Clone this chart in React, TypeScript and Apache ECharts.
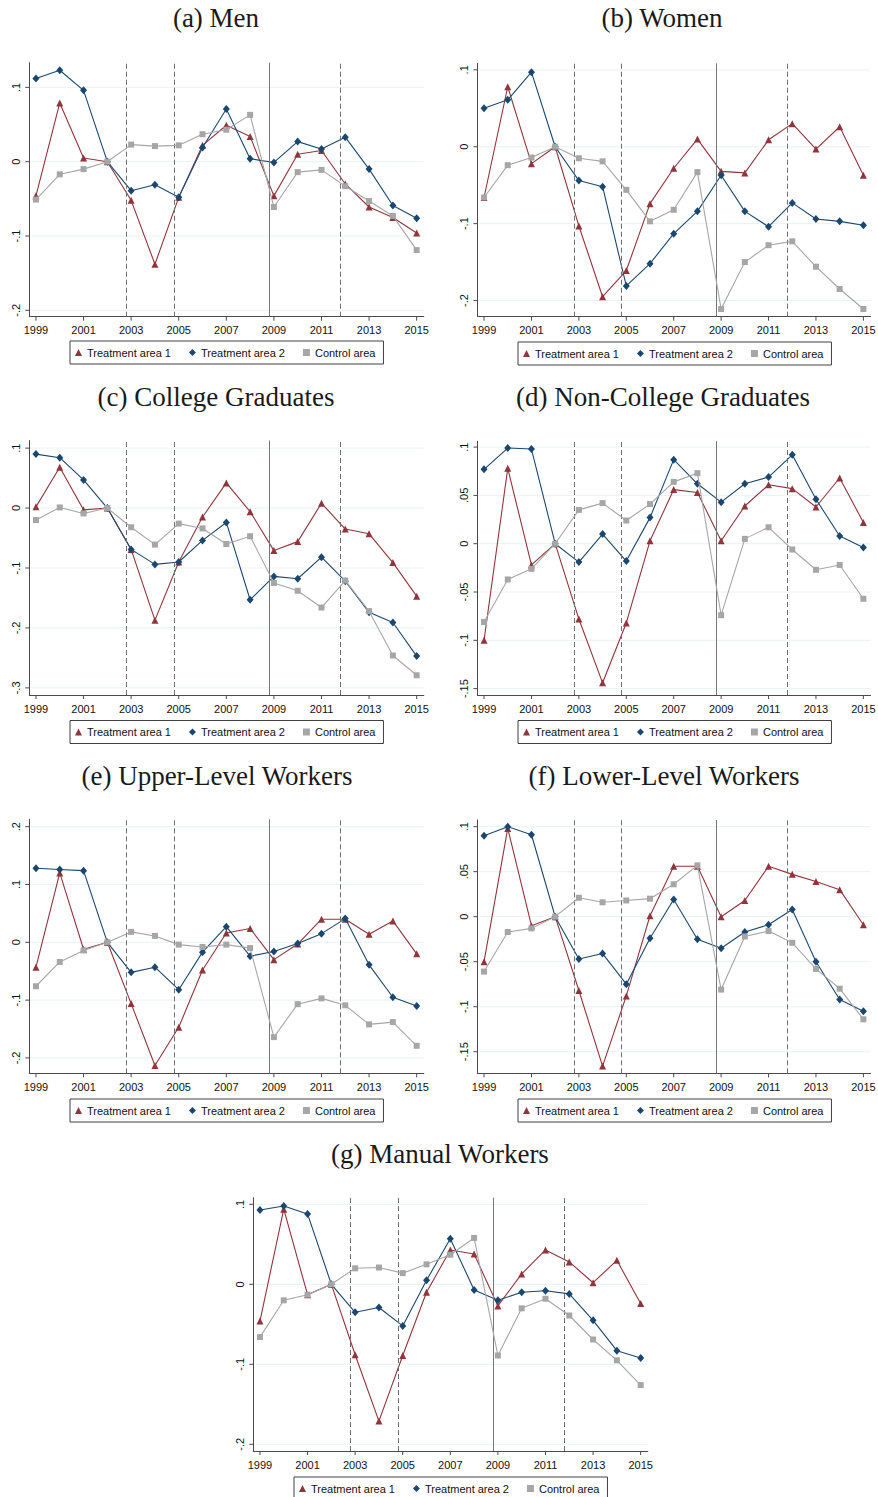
import React, { useEffect, useRef } from 'react';
import * as echarts from 'echarts';

const years = [1999, 2000, 2001, 2002, 2003, 2004, 2005, 2006, 2007, 2008, 2009, 2010, 2011, 2012, 2013, 2014, 2015];
const xTickYears = [1999, 2001, 2003, 2005, 2007, 2009, 2011, 2013, 2015];
const xTickLabels = ['1999', '2001', '2003', '2005', '2007', '2009', '2011', '2013', '2015'];
const dashedYears = [2002.8, 2004.8, 2011.8];
const solidYears = [2008.8];
const seriesNames = ['Treatment area 1', 'Treatment area 2', 'Control area'];

// (a) Men
const menT1 = [-0.046, 0.079, 0.005, 0, -0.052, -0.138, -0.048, 0.022, 0.049, 0.034, -0.046, 0.010, 0.015, -0.030, -0.061, -0.075, -0.096];
const menT2 = [0.112, 0.123, 0.096, 0, -0.039, -0.031, -0.048, 0.019, 0.071, 0.004, -0.001, 0.027, 0.017, 0.033, -0.010, -0.059, -0.076];
const menCtrl = [-0.051, -0.017, -0.010, 0, 0.023, 0.021, 0.022, 0.037, 0.043, 0.063, -0.061, -0.014, -0.011, -0.033, -0.053, -0.073, -0.119];

// (b) Women
const womenT1 = [-0.066, 0.078, -0.022, 0, -0.103, -0.195, -0.161, -0.074, -0.028, 0.010, -0.032, -0.034, 0.009, 0.030, -0.003, 0.026, -0.037];
const womenT2 = [0.050, 0.061, 0.097, 0, -0.044, -0.052, -0.181, -0.152, -0.113, -0.084, -0.037, -0.084, -0.104, -0.073, -0.094, -0.097, -0.102];
const womenCtrl = [-0.066, -0.024, -0.014, 0, -0.015, -0.019, -0.056, -0.097, -0.082, -0.033, -0.211, -0.150, -0.128, -0.123, -0.156, -0.185, -0.211];

// (c) College Graduates
const collT1 = [0.002, 0.068, -0.003, 0, -0.069, -0.187, -0.090, -0.015, 0.042, -0.006, -0.071, -0.056, 0.008, -0.035, -0.043, -0.091, -0.147];
const collT2 = [0.090, 0.084, 0.047, 0, -0.069, -0.094, -0.090, -0.054, -0.024, -0.153, -0.114, -0.118, -0.082, -0.122, -0.174, -0.191, -0.247];
const collCtrl = [-0.020, 0.001, -0.009, 0, -0.032, -0.061, -0.026, -0.034, -0.060, -0.047, -0.125, -0.138, -0.166, -0.121, -0.172, -0.246, -0.279];

// (d) Non-College Graduates
const nonCollT1 = [-0.100, 0.078, -0.022, 0, -0.078, -0.144, -0.082, 0.003, 0.056, 0.053, 0.003, 0.039, 0.061, 0.057, 0.038, 0.068, 0.022];
const nonCollT2 = [0.077, 0.099, 0.098, 0, -0.019, 0.010, -0.018, 0.027, 0.087, 0.062, 0.043, 0.062, 0.069, 0.092, 0.046, 0.008, -0.004];
const nonCollCtrl = [-0.081, -0.037, -0.026, 0, 0.035, 0.042, 0.024, 0.041, 0.064, 0.073, -0.074, 0.005, 0.017, -0.006, -0.027, -0.022, -0.057];

// (e) Upper-Level Workers
const upperT1 = [-0.043, 0.120, -0.012, 0, -0.106, -0.213, -0.147, -0.048, 0.016, 0.024, -0.030, -0.003, 0.040, 0.040, 0.014, 0.037, -0.020];
const upperT2 = [0.128, 0.126, 0.124, 0, -0.052, -0.043, -0.082, -0.017, 0.027, -0.024, -0.016, -0.002, 0.015, 0.041, -0.039, -0.095, -0.110];
const upperCtrl = [-0.076, -0.034, -0.014, 0, 0.018, 0.011, -0.004, -0.008, -0.004, -0.010, -0.164, -0.107, -0.097, -0.109, -0.142, -0.138, -0.179];

// (f) Lower-Level Workers
const lowerT1 = [-0.050, 0.098, -0.010, 0, -0.082, -0.166, -0.088, 0.001, 0.056, 0.056, 0.000, 0.018, 0.056, 0.047, 0.039, 0.030, -0.009];
const lowerT2 = [0.090, 0.100, 0.091, 0, -0.047, -0.041, -0.075, -0.024, 0.019, -0.025, -0.035, -0.017, -0.009, 0.008, -0.050, -0.092, -0.105];
const lowerCtrl = [-0.061, -0.017, -0.013, 0, 0.021, 0.016, 0.018, 0.020, 0.036, 0.057, -0.081, -0.022, -0.016, -0.029, -0.058, -0.080, -0.114];

// (g) Manual Workers
const manualT1 = [-0.046, 0.094, -0.013, 0, -0.088, -0.171, -0.089, -0.010, 0.043, 0.038, -0.027, 0.013, 0.043, 0.028, 0.002, 0.030, -0.024];
const manualT2 = [0.093, 0.098, 0.088, 0, -0.035, -0.029, -0.052, 0.005, 0.057, -0.007, -0.020, -0.010, -0.008, -0.012, -0.045, -0.083, -0.092];
const manualCtrl = [-0.066, -0.020, -0.013, 0, 0.020, 0.021, 0.014, 0.025, 0.037, 0.058, -0.089, -0.030, -0.018, -0.039, -0.069, -0.095, -0.126];

const titles = [
  '(a) Men',
  '(b) Women',
  '(c) College Graduates',
  '(d) Non-College Graduates',
  '(e) Upper-Level Workers',
  '(f) Lower-Level Workers',
  '(g) Manual Workers',
];

const yTicksTenths3 = [0.1, 0, -0.1, -0.2];
const yLabelsTenths3 = ['.1', '0', '-.1', '-.2'];
const yTicksTenths4 = [0.1, 0, -0.1, -0.2, -0.3];
const yLabelsTenths4 = ['.1', '0', '-.1', '-.2', '-.3'];
const yTicksTwentieths = [0.1, 0.05, 0, -0.05, -0.1, -0.15];
const yLabelsTwentieths = ['.1', '.05', '0', '-.05', '-.1', '-.15'];
const yTicksWide = [0.2, 0.1, 0, -0.1, -0.2];
const yLabelsWide = ['.2', '.1', '0', '-.1', '-.2'];

// layout (pixel positions & axis ranges)
const X_MIN = 1998.72;
const X_MAX = 2015.3;
const layouts = [
  { left: 29.3, top: 62.7, width: 394.5, height: 254, yMin: -0.2086, yMax: 0.1332, tx: 216, ty: 18, lx: 70, ly: 341 },
  { left: 477.4, top: 63.3, width: 393.1, height: 253.4, yMin: -0.221, yMax: 0.1085, tx: 662, ty: 18, lx: 518, ly: 342 },
  { left: 29.3, top: 440.5, width: 394.5, height: 254.5, yMin: -0.3119, yMax: 0.1127, tx: 216, ty: 397, lx: 70, ly: 720.5 },
  { left: 477.4, top: 441.2, width: 393.1, height: 253.8, yMin: -0.1566, yMax: 0.1061, tx: 663, ty: 397, lx: 518, ly: 720.5 },
  { left: 29.3, top: 819.3, width: 394.5, height: 254, yMin: -0.2266, yMax: 0.2128, tx: 217, ty: 776, lx: 70, ly: 1099 },
  { left: 477.4, top: 820, width: 393.1, height: 253.3, yMin: -0.174, yMax: 0.1074, tx: 664, ty: 776, lx: 518, ly: 1099 },
  { left: 253.3, top: 1197.7, width: 394.5, height: 253.3, yMin: -0.2084, yMax: 0.1083, tx: 440, ty: 1154, lx: 294, ly: 1477 },
];

const panelValues = [
  [menT1, menT2, menCtrl],
  [womenT1, womenT2, womenCtrl],
  [collT1, collT2, collCtrl],
  [nonCollT1, nonCollT2, nonCollCtrl],
  [upperT1, upperT2, upperCtrl],
  [lowerT1, lowerT2, lowerCtrl],
  [manualT1, manualT2, manualCtrl],
];
const panelYTicks = [yTicksTenths3, yTicksTenths3, yTicksTenths4, yTicksTwentieths, yTicksWide, yTicksTwentieths, yTicksTenths3];
const panelYLabels = [yLabelsTenths3, yLabelsTenths3, yLabelsTenths4, yLabelsTwentieths, yLabelsWide, yLabelsTwentieths, yLabelsTenths3];

const COLORS = ['#90353b', '#1a476f', '#a6a6a6'];
const SYMBOLS = ['triangle', 'diamond', 'rect'];
const SIZES: any[] = [[7, 7], [7, 8], [6, 6]];
const AXIS = '#4a4a4a';
const GRIDC = '#eaf2f3';
const SANS = '"Liberation Sans", Arial, sans-serif';

function buildOption() {
  const grid: any[] = [];
  const xAxis: any[] = [];
  const yAxis: any[] = [];
  const series: any[] = [];
  const legend: any[] = [];
  const graphic: any[] = [];

  layouts.forEach((p, i) => {
    grid.push({ left: p.left, top: p.top, width: p.width, height: p.height, containLabel: false });
    xAxis.push({
      type: 'value', gridIndex: i, min: X_MIN, max: X_MAX,
      axisLine: { show: true, onZero: false, lineStyle: { color: AXIS, width: 1 } },
      axisTick: { show: false }, axisLabel: { show: false }, splitLine: { show: false },
    });
    yAxis.push({
      type: 'value', gridIndex: i, min: p.yMin, max: p.yMax,
      axisLine: { show: true, onZero: false, lineStyle: { color: AXIS, width: 1 } },
      axisTick: { show: false }, axisLabel: { show: false }, splitLine: { show: false },
    });

    const yLabels = panelYLabels[i];
    series.push({
      type: 'custom', xAxisIndex: i, yAxisIndex: i, z: 1, silent: true, clip: false,
      data: panelYTicks[i].map((v) => [X_MIN, v]),
      renderItem: (params: any, api: any) => {
        const v = api.value(1);
        const pt = api.coord([X_MIN, v]);
        const right = api.coord([X_MAX, v])[0];
        return {
          type: 'group',
          children: [
            { type: 'line', shape: { x1: pt[0] + 1, y1: pt[1], x2: right, y2: pt[1] }, style: { stroke: GRIDC, lineWidth: 1 } },
            { type: 'line', shape: { x1: pt[0] - 4, y1: pt[1], x2: pt[0], y2: pt[1] }, style: { stroke: AXIS, lineWidth: 1 } },
            {
              type: 'text', x: pt[0] - 13, y: pt[1], rotation: Math.PI / 2,
              style: { text: yLabels[params.dataIndex], fontSize: 11, fontFamily: SANS, fill: '#111', align: 'center', verticalAlign: 'middle' },
            },
          ],
        };
      },
    });
    series.push({
      type: 'custom', xAxisIndex: i, yAxisIndex: i, z: 1, silent: true, clip: false,
      data: xTickYears.map((yr) => [yr, p.yMin]),
      renderItem: (params: any, api: any) => {
        const pt = api.coord([api.value(0), p.yMin]);
        return {
          type: 'group',
          children: [
            { type: 'line', shape: { x1: pt[0], y1: pt[1], x2: pt[0], y2: pt[1] + 4 }, style: { stroke: AXIS, lineWidth: 1 } },
            {
              type: 'text', x: pt[0], y: pt[1] + 13.5,
              style: { text: xTickLabels[params.dataIndex], fontSize: 11, fontFamily: SANS, fill: '#111', align: 'center', verticalAlign: 'middle' },
            },
          ],
        };
      },
    });

    panelValues[i].forEach((vals, k) => {
      const s: any = {
        type: 'line', name: seriesNames[k], xAxisIndex: i, yAxisIndex: i,
        data: years.map((yr, j) => [yr, vals[j]]),
        symbol: SYMBOLS[k], symbolSize: SIZES[k], showAllSymbol: true,
        lineStyle: { color: COLORS[k], width: 1.1 },
        itemStyle: { color: COLORS[k] },
        z: 3 + k, silent: true,
      };
      if (k === 0) {
        s.markLine = {
          silent: true, symbol: ['none', 'none'], label: { show: false },
          data: [
            ...dashedYears.map((x) => ({ xAxis: x, lineStyle: { type: [5, 3], color: '#6e6e6e', width: 1 } })),
            ...solidYears.map((x) => ({ xAxis: x, lineStyle: { type: 'solid', color: '#777777', width: 1 } })),
          ],
        };
      }
      series.push(s);
    });

    legend.push({
      left: p.lx, top: p.ly, orient: 'horizontal',
      data: seriesNames.map((n, k) => ({ name: n, icon: SYMBOLS[k] })),
      itemWidth: 7, itemHeight: 7, itemGap: 18,
      padding: [6, 8, 6, 5],
      borderColor: '#404040', borderWidth: 1, backgroundColor: '#fff',
      selectedMode: false,
      textStyle: { fontFamily: SANS, fontSize: 11, color: '#111' },
    });

    graphic.push({
      type: 'text', x: p.tx, y: p.ty, silent: true,
      style: { text: titles[i], font: '27px "Liberation Serif", "Times New Roman", serif', fill: '#1a1a1a', align: 'center', verticalAlign: 'middle' },
    });
  });

  return { animation: false, backgroundColor: '#ffffff', grid, xAxis, yAxis, series, legend, graphic };
}

export default function App() {
  const ref = useRef<HTMLDivElement>(null);
  useEffect(() => {
    if (!ref.current) return;
    const chart = echarts.init(ref.current, null, { renderer: 'svg' });
    chart.setOption(buildOption() as any);
    return () => chart.dispose();
  }, []);
  return (
    <div
      ref={ref}
      style={{ position: 'absolute', left: 0, top: 0, width: 878, height: 1497, background: '#fff' }}
    />
  );
}
